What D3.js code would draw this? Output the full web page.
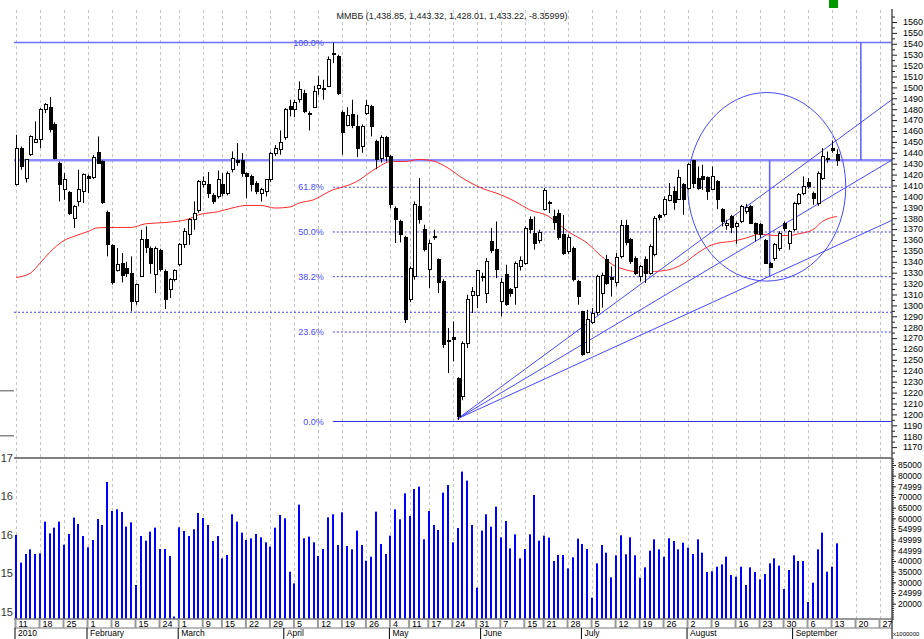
<!DOCTYPE html>
<html>
<head>
<meta charset="utf-8">
<script src="https://cdn.jsdelivr.net/npm/d3@7"></script>
<style>
  body { margin: 0; background: #fff; }
  svg text { font-family: "Liberation Sans", Arial, sans-serif; }
</style>
</head>
<body>
<svg id="chart" width="924" height="639"></svg>
<script>
var title = "ММВБ (1,438.85, 1,443.32, 1,428.01, 1,433.22, -8.35999)";

// daily candles, 11 Jan .. 14 Sep 2010 (trading days)
var open = [1410.7,1443.7,1416.8,1438.8,1449.5,1452.0,1479.5,1481.6,1466.3,1430.6,
  1406.1,1403.6,1380.1,1395.4,1404.6,1418.3,1417.4,1440.3,1432.1,1385.6,
  1354.7,1332.1,1338.2,1334.2,1329.1,1303.7,1326.6,1360.8,1352.6,1328.1,
  1350.4,1331.2,1314.9,1323.6,1337.3,1355.6,1364.8,1378.6,1387.1,1411.3,
  1410.7,1400.6,1400.0,1411.3,1403.0,1424.4,1432.7,1433.0,1420.8,1418.3,
  1412.2,1403.0,1404.6,1415.3,1439.7,1442.8,1454.4,1482.5,1479.5,1488.7,
  1494.8,1476.4,1481.9,1499.3,1499.3,1500.9,1531.5,1528.4,1477.0,1464.8,
  1474.9,1464.2,1445.8,1475.8,1482.5,1450.4,1435.1,1454.4,1436.7,1389.2,
  1377.0,1362.7,1305.8,1326.6,1390.8,1370.0,1333.3,1362.1,1341.9,1322.0,
  1267.8,1270.9,1233.3,1216.5,1265.4,1308.8,1308.8,1326.6,1311.3,1358.7,
  1351.7,1303.7,1328.1,1314.4,1316.8,1335.8,1338.8,1378.6,1366.4,1359.6,
  1387.8,1394.5,1381.6,1384.7,1364.8,1349.5,1352.6,1322.0,1294.4,1256.8,
  1284.3,1293.5,1311.3,1341.8,1325.9,1321.0,1344.9,1373.0,1360.2,1343.4,
  1326.6,1341.8,1329.6,1346.4,1382.2,1383.1,1396.3,1404.5,1397.5,1410.6,
  1407.6,1433.0,1416.8,1418.3,1417.7,1406.7,1413.7,1388.3,1373.0,1381.6,
  1372.4,1377.0,1386.2,1390.8,1374.9,1373.9,1359.6,1338.2,1343.4,1352.6,
  1375.5,1357.1,1369.4,1393.8,1402.4,1412.8,1403.0,1393.8,1416.8,1433.6,
  1444.3,1438.85];
var high = [1456.5,1445.8,1434.0,1456.0,1468.8,1481.0,1485.6,1491.1,1468.0,1432.0,
  1421.4,1405.0,1392.0,1424.4,1421.0,1419.9,1438.0,1455.0,1433.0,1387.0,
  1356.0,1352.6,1348.0,1340.0,1345.0,1320.0,1369.4,1372.5,1354.0,1354.0,
  1352.0,1333.0,1325.0,1333.0,1357.2,1370.9,1380.0,1395.4,1415.0,1418.3,
  1422.3,1403.0,1423.8,1421.4,1423.0,1441.3,1448.9,1439.7,1422.0,1420.0,
  1414.0,1408.0,1415.3,1441.0,1447.0,1460.5,1481.0,1488.7,1488.7,1505.5,
  1497.8,1478.0,1501.5,1510.7,1507.0,1528.4,1541.0,1530.0,1479.0,1481.9,
  1488.7,1474.9,1466.0,1488.7,1484.0,1452.0,1456.0,1455.5,1438.0,1390.8,
  1378.6,1364.0,1335.8,1395.4,1416.8,1374.0,1360.2,1369.4,1343.0,1324.0,
  1279.2,1285.3,1234.0,1267.0,1309.8,1316.8,1332.1,1330.0,1343.4,1370.9,
  1377.0,1325.0,1337.3,1316.0,1340.3,1345.0,1372.5,1381.6,1381.6,1369.4,
  1407.6,1396.0,1387.8,1387.8,1383.1,1365.0,1354.0,1323.5,1295.0,1296.0,
  1297.5,1328.1,1330.0,1346.4,1335.7,1348.0,1378.5,1378.5,1362.0,1345.0,
  1337.0,1344.9,1356.0,1382.0,1384.0,1400.0,1412.2,1409.1,1424.4,1412.2,
  1430.5,1433.6,1427.5,1429.0,1418.3,1427.5,1415.0,1389.2,1378.5,1383.1,
  1377.0,1392.3,1393.2,1392.3,1376.0,1375.5,1361.0,1340.0,1357.1,1368.0,
  1377.0,1369.0,1395.0,1403.0,1418.3,1416.8,1404.5,1422.9,1444.3,1441.2,
  1451.3,1443.32];
var low = [1410.0,1424.4,1412.8,1437.0,1449.0,1444.3,1476.4,1458.7,1434.0,1395.4,
  1396.9,1383.0,1371.0,1390.8,1393.9,1403.0,1416.0,1430.0,1393.0,1345.0,
  1319.0,1331.0,1321.1,1326.0,1294.5,1300.6,1326.0,1348.0,1329.0,1311.3,
  1331.0,1296.6,1306.7,1322.0,1335.8,1352.6,1355.6,1369.4,1385.0,1408.0,
  1398.4,1393.0,1398.0,1400.0,1401.0,1422.0,1428.0,1418.0,1398.4,1404.6,
  1402.0,1395.4,1400.0,1413.0,1437.0,1438.2,1452.0,1473.4,1472.7,1486.0,
  1476.4,1460.5,1481.0,1493.2,1488.7,1500.3,1522.3,1493.0,1438.2,1464.2,
  1462.6,1436.0,1440.0,1474.9,1455.0,1425.0,1431.0,1432.0,1389.0,1357.2,
  1357.8,1283.8,1303.0,1323.6,1375.0,1349.5,1315.9,1360.2,1311.3,1260.8,
  1237.9,1248.6,1195.0,1213.0,1260.8,1293.0,1297.5,1322.0,1302.2,1348.0,
  1325.0,1290.0,1299.7,1308.0,1300.6,1332.0,1337.3,1366.0,1351.1,1357.0,
  1387.1,1384.7,1369.4,1360.2,1346.4,1347.0,1322.0,1300.6,1253.8,1256.0,
  1283.1,1291.0,1298.0,1318.9,1308.2,1317.4,1343.0,1355.0,1338.0,1328.1,
  1322.0,1320.4,1328.1,1345.0,1378.0,1381.6,1395.4,1387.7,1396.9,1383.1,
  1406.1,1407.6,1406.1,1406.1,1396.9,1406.1,1388.3,1372.4,1369.4,1366.3,
  1356.5,1375.5,1384.0,1374.9,1358.7,1362.0,1338.2,1334.5,1341.0,1350.0,
  1368.0,1351.0,1368.0,1392.0,1401.0,1407.0,1392.3,1391.4,1415.0,1431.0,
  1440.0,1428.01];
var close = [1444.3,1427.5,1433.6,1455.0,1452.0,1479.5,1484.0,1461.1,1435.1,1410.7,
  1415.3,1384.7,1390.8,1406.1,1419.9,1416.8,1436.1,1430.6,1394.8,1355.6,
  1321.1,1337.3,1327.2,1329.1,1303.7,1318.9,1360.8,1353.5,1338.8,1352.6,
  1333.3,1305.8,1323.6,1332.1,1355.6,1367.9,1378.6,1384.7,1413.7,1413.7,
  1402.4,1395.4,1415.3,1403.0,1420.8,1435.1,1431.5,1420.8,1418.3,1410.7,
  1404.6,1406.1,1415.3,1439.7,1443.7,1449.5,1479.5,1480.1,1486.2,1497.8,
  1478.0,1475.5,1496.3,1501.5,1498.4,1526.0,1530.9,1494.8,1458.7,1474.0,
  1464.8,1443.7,1464.2,1483.1,1464.2,1433.6,1454.4,1436.7,1392.3,1378.6,
  1364.8,1286.8,1334.2,1392.3,1378.6,1351.7,1357.2,1363.3,1321.1,1263.9,
  1266.9,1269.0,1198.2,1265.4,1305.8,1312.8,1332.1,1325.8,1340.3,1350.4,
  1333.3,1321.1,1300.6,1311.3,1338.8,1341.3,1370.9,1369.4,1357.2,1366.9,
  1405.5,1393.3,1376.1,1362.7,1348.0,1362.6,1323.5,1308.2,1254.7,1287.4,
  1292.9,1326.6,1327.2,1320.4,1324.1,1344.3,1373.0,1357.7,1340.3,1329.6,
  1335.7,1329.6,1354.1,1380.1,1381.0,1396.9,1400.6,1394.4,1417.7,1396.9,
  1429.0,1412.2,1407.6,1415.2,1404.5,1418.3,1396.9,1377.0,1375.5,1371.8,
  1375.5,1390.8,1390.2,1375.5,1365.7,1364.8,1338.8,1335.1,1355.6,1366.3,
  1370.9,1367.9,1393.8,1401.5,1409.1,1409.1,1398.4,1421.4,1436.6,1435.1,
  1442.1,1433.22];

// volume, x 1000000
var volume = [52200,39230,43290,45480,43290,43600,58450,52980,55640,58450,
  47670,52670,60330,57360,51730,46420,49850,59700,56890,77050,
  63450,64240,62980,56110,58140,28750,51730,49540,53760,55640,
  45630,45630,42350,14000,55790,54070,51730,54860,62510,60170,
  56890,49390,51730,41260,42820,61890,58450,53290,49850,50640,
  52670,51100,48760,46730,55640,61580,60010,35000,29530,66420,
  50640,51420,48760,42350,45630,60480,61890,47510,62830,47040,
  45480,54230,47510,40160,42040,63140,47980,43290,51890,64230,
  59540,71740,61110,73770,74860,50170,63450,56890,54540,72050,
  75640,48760,55480,81900,77670,56890,27500,54230,61890,56110,
  65480,51100,58760,45950,52510,41260,45630,52510,70960,49540,
  51890,50950,40010,42820,42820,36570,41730,50480,47980,45630,
  22800,38910,47510,43920,32350,42670,52040,43130,51100,42670,
  32190,37040,44850,50170,45480,42040,50640,49390,45480,48600,
  46260,43290,50170,43920,34850,35160,37350,38440,42040,33440,
  32660,37350,28750,37040,34850,31410,33910,38910,41260,37820,
  26880,35790,42670,40010,40010,20800,29850,45480,53290,35000,
  37350,48290];

// moving average (bar index, value)
var maIdx = [0,3,5,7,10,12,15,17,20,24,27,31,36,38,42,45,48,51,54,57,59,62,66,68,71,74,76,78,81,84,
  87,90,93,97,101,104,107,111,113,115,119,122,125,127,130,133,136,139,142,145,147,149,152,155,158,161,163,166,168,171];
var maVal = [1325.6,1329.6,1338.8,1348.5,1359.5,1363.2,1367.8,1371.2,1371.5,1371.5,1374.9,1376.0,1379.2,1383.1,
  1385.9,1389.3,1391.7,1391.7,1389.3,1390.2,1393.9,1396.9,1406.0,1408.5,1413.7,1422.8,1428.3,1432.0,1432.0,1433.9,
  1432.4,1426.0,1416.8,1407.6,1401.5,1395.3,1387.7,1381.6,1374.9,1367.8,1357.2,1344.9,1335.7,1332.7,1330.6,1331.1,
  1332.7,1338.2,1348.0,1355.6,1357.7,1358.6,1361.7,1365.4,1364.1,1364.1,1365.7,1369.4,1377.0,1381.6];

// date axis
var weekIdx = [0,5,10,15,20,25,30,34,39,43,48,53,58,63,68,73,78,82,86,91,96,101,106,110,115,120,125,130,135,140,145,150,155,160,165,170,175,180];
var weekLbl = ["11","18","25","1","8","15","24","1","9","15","22","29","5","12","19","26","4","11","17","24","31","7","15","21","28","5","12","19","26","2","9","16","23","30","6","13","20","27"];
var monthIdx = [0,15,34,56,78,97,118,140,162];
var monthLbl = ["2010","February","March","April","May","June","July","August","September"];

// drawing objects
var fibIdx = 66;
var fibHigh = 1541.2, fibLow = 1193.5;
var fibLevels = [0, 0.236, 0.382, 0.5, 0.618, 1];
var fibLabels = ["0.0%", "23.6%", "38.2%", "50.0%", "61.8%", "100.0%"];
var levelLine = 1433.1;
var dottedLine = 1293.7;
var fanStart = [92, 1196];
var fanEnds = [[182.7, 1489.5], [182.7, 1434.0], [182.7, 1378.5]];
var arcCenter = [156.4, 1408.8];
var arcRadius = [16.46, 86.5];
var markIdx = [157, 176];

var volTicks = [85000,80000,75000,70000,65000,60000,55000,50000,45000,40000,35000,30000,25000,20000];
var volTickLbl = ["85000","80000","74999","70000","65000","60000","54999","49999","44999","40000","35000","30000","24999","20000"];
var leftTicks = [17, 16.5, 16, 15.5, 15];
var leftLbl = ["17", "16", "16", "15", "15"];

var svg = d3.select("#chart");

var x = d3.scaleLinear().domain([0, 182.7]).range([16, 893]);
var yP = d3.scaleLinear().domain([1160, 1571]).range([458, 10]);
var yV = d3.scaleLinear().domain([20000, 85000]).range([603.7, 465]);
var yL = d3.scaleLinear().domain([15, 17]).range([612, 458]);

var left = 14, right = 892, volBottom = 619;

// vertical dashed grid
svg.append("g").selectAll("line")
    .data(weekIdx)
    .enter().append("line")
    .attr("x1", function (d) { return Math.round(x(d)) + 0.5; })
    .attr("x2", function (d) { return Math.round(x(d)) + 0.5; })
    .attr("y1", 10).attr("y2", volBottom)
    .attr("stroke", "#c4c4c4")
    .attr("stroke-dasharray", "3,3");

// title + green marker
svg.append("text")
    .attr("x", 452).attr("y", 19)
    .attr("text-anchor", "middle")
    .attr("font-size", 9)
    .attr("fill", "#222")
    .text(title);
svg.append("rect").attr("x", 829).attr("y", 0).attr("width", 9).attr("height", 8).attr("fill", "#009900");

// left stubs
svg.append("g").selectAll("line")
    .data([1221.7, 1180.4])
    .enter().append("line")
    .attr("x1", 0).attr("x2", left)
    .attr("y1", function (d) { return yP(d); })
    .attr("y2", function (d) { return yP(d); })
    .attr("stroke", "#888").attr("stroke-width", 1.5);

// full-width horizontal lines
svg.append("line")
    .attr("x1", left).attr("x2", right)
    .attr("y1", yP(levelLine)).attr("y2", yP(levelLine))
    .attr("stroke", "#8c8cff").attr("stroke-width", 2.5);
svg.append("line")
    .attr("x1", left).attr("x2", right)
    .attr("y1", yP(fibHigh)).attr("y2", yP(fibHigh))
    .attr("stroke", "#6f6fff").attr("stroke-width", 1.5);
svg.append("line")
    .attr("x1", left).attr("x2", right)
    .attr("y1", yP(dottedLine)).attr("y2", yP(dottedLine))
    .attr("stroke", "#3c3cff").attr("stroke-dasharray", "2,2");

// fibonacci retracement
var fib = svg.append("g");
fibLevels.forEach(function (f, i) {
    var v = fibLow + f * (fibHigh - fibLow);
    if (f > 0 && f < 1) {
        fib.append("line")
            .attr("x1", x(fibIdx)).attr("x2", right)
            .attr("y1", yP(v)).attr("y2", yP(v))
            .attr("stroke", "#3c3cff").attr("stroke-dasharray", "2,2");
    } else if (f === 0) {
        fib.append("line")
            .attr("x1", x(fibIdx)).attr("x2", right)
            .attr("y1", yP(v)).attr("y2", yP(v))
            .attr("stroke", "#3030d8");
    }
    fib.append("text")
        .attr("x", x(fibIdx) - 9).attr("y", yP(v))
        .attr("dy", "0.35em")
        .attr("text-anchor", "end")
        .attr("font-size", 9)
        .attr("fill", "#4a4aff")
        .text(fibLabels[i]);
});

// vertical marks
svg.append("line")
    .attr("x1", x(markIdx[0])).attr("x2", x(markIdx[0]))
    .attr("y1", yP(levelLine)).attr("y2", yP(fibLow + 0.382 * (fibHigh - fibLow)))
    .attr("stroke", "#5a5aff").attr("stroke-width", 1.5);
svg.append("line")
    .attr("x1", x(markIdx[1])).attr("x2", x(markIdx[1]))
    .attr("y1", yP(fibHigh)).attr("y2", yP(levelLine))
    .attr("stroke", "#5a5aff").attr("stroke-width", 1.5);

// fan lines
svg.append("g").selectAll("line")
    .data(fanEnds)
    .enter().append("line")
    .attr("x1", x(fanStart[0])).attr("y1", yP(fanStart[1]))
    .attr("x2", function (d) { return x(d[0]); })
    .attr("y2", function (d) { return yP(d[1]); })
    .attr("stroke", "#4848ff");

// ellipse
svg.append("ellipse")
    .attr("cx", x(arcCenter[0])).attr("cy", yP(arcCenter[1]))
    .attr("rx", x(arcCenter[0] + arcRadius[0]) - x(arcCenter[0]))
    .attr("ry", yP(arcCenter[1] - arcRadius[1]) - yP(arcCenter[1]))
    .attr("fill", "none")
    .attr("stroke", "#4848ff");

// moving average
var ma = maIdx.map(function (d, i) { return [d, maVal[i]]; });
svg.append("path")
    .datum(ma)
    .attr("fill", "none")
    .attr("stroke", "#ff2a2a")
    .attr("d", d3.line()
        .x(function (d) { return x(d[0]); })
        .y(function (d) { return yP(d[1]); })
        .curve(d3.curveMonotoneX));

// candles
var bars = open.map(function (o, i) {
    return { i: i, o: o, h: high[i], l: low[i], c: close[i], v: volume[i] };
});

var candle = svg.append("g")
    .selectAll("g")
    .data(bars)
    .enter().append("g");

candle.append("line")
    .attr("x1", function (d) { return Math.round(x(d.i)) + 0.5; })
    .attr("x2", function (d) { return Math.round(x(d.i)) + 0.5; })
    .attr("y1", function (d) { return yP(d.h); })
    .attr("y2", function (d) { return yP(d.l); })
    .attr("stroke", "#000");

candle.append("rect")
    .attr("x", function (d) { return Math.round(x(d.i)) - 1; })
    .attr("width", 3)
    .attr("y", function (d) { return yP(Math.max(d.o, d.c)); })
    .attr("height", function (d) { return Math.max(1, Math.abs(yP(d.o) - yP(d.c))); })
    .attr("fill", function (d) { return d.c < d.o ? "#000" : "#fff"; })
    .attr("stroke", "#000")
    .attr("shape-rendering", "crispEdges");

// volume
svg.append("g").selectAll("rect")
    .data(bars)
    .enter().append("rect")
    .attr("x", function (d) { return Math.round(x(d.i)) - 1; })
    .attr("width", 2)
    .attr("y", function (d) { return yV(d.v); })
    .attr("height", function (d) { return Math.max(0, volBottom - yV(d.v)); })
    .attr("fill", "#0000ff");

// panel separators
svg.append("line")
    .attr("x1", left).attr("x2", right).attr("y1", 458).attr("y2", 458)
    .attr("stroke", "#555").attr("stroke-width", 1.5);
svg.append("line")
    .attr("x1", left).attr("x2", right).attr("y1", volBottom).attr("y2", volBottom)
    .attr("stroke", "#777").attr("stroke-width", 1.5);
svg.append("line")
    .attr("x1", left).attr("x2", right).attr("y1", 628).attr("y2", 628)
    .attr("stroke", "#777");

// right axis line
svg.append("line")
    .attr("x1", right).attr("x2", right).attr("y1", 9).attr("y2", 639)
    .attr("stroke", "#555").attr("stroke-width", 1.5);

function styleAxis(g, size) {
    g.select(".domain").remove();
    g.selectAll("line").attr("stroke", "#222");
    g.selectAll("text")
        .attr("font-family", "'Liberation Sans', Arial, sans-serif")
        .attr("font-size", size)
        .attr("fill", "#000");
}

// price axis
svg.append("g")
    .attr("transform", "translate(" + right + ",0)")
    .call(d3.axisRight(yP).tickValues(d3.range(1165, 1570, 10)).tickSize(3).tickFormat(""))
    .call(styleAxis, 9);
svg.append("g")
    .attr("transform", "translate(" + right + ",0)")
    .call(d3.axisRight(yP).tickValues(d3.range(1170, 1561, 10)).tickSize(5).tickPadding(6)
        .tickFormat(d3.format("d")))
    .call(styleAxis, 9);

// volume axis
svg.append("g")
    .attr("transform", "translate(" + right + ",0)")
    .call(d3.axisRight(yV).tickValues(d3.range(13000, 88001, 1000)).tickSize(2).tickFormat(""))
    .call(styleAxis, 9);
svg.append("g")
    .attr("transform", "translate(" + right + ",0)")
    .call(d3.axisRight(yV).tickValues(volTicks).tickSize(4).tickPadding(2)
        .tickFormat(function (d, i) { return volTickLbl[i]; }))
    .call(styleAxis, 8.5);
svg.append("text")
    .attr("x", right + 1).attr("y", 636)
    .attr("font-size", 6)
    .attr("fill", "#000")
    .text("x1000000");

// left volume labels
svg.append("g").selectAll("text")
    .data(leftTicks)
    .enter().append("text")
    .attr("x", 13)
    .attr("y", function (d) { return yL(d); })
    .attr("dy", "0.35em")
    .attr("text-anchor", "end")
    .attr("font-size", 11)
    .attr("fill", "#333")
    .text(function (d, i) { return leftLbl[i]; });

// day axis
var dayAxis = svg.append("g")
    .attr("transform", "translate(-1," + volBottom + ")")
    .call(d3.axisBottom(x).tickValues(weekIdx).tickSize(9).tickPadding(-7)
        .tickFormat(function (d, i) { return weekLbl[i]; }));
dayAxis.select(".domain").remove();
dayAxis.selectAll("line").attr("stroke", "#999").attr("stroke-width", 2);
dayAxis.selectAll("text")
    .attr("text-anchor", "start")
    .attr("x", 3)
    .attr("font-family", "'Liberation Sans', Arial, sans-serif")
    .attr("font-size", 9)
    .attr("fill", "#000");

// month axis
var monthAxis = svg.append("g")
    .attr("transform", "translate(-1.5,628)")
    .call(d3.axisBottom(x).tickValues(monthIdx).tickSize(11).tickPadding(-9)
        .tickFormat(function (d, i) { return monthLbl[i]; }));
monthAxis.select(".domain").remove();
monthAxis.selectAll("line").attr("stroke", "#000");
monthAxis.selectAll("text")
    .attr("text-anchor", "start")
    .attr("x", 3)
    .attr("font-family", "'Liberation Sans', Arial, sans-serif")
    .attr("font-size", 8.5)
    .attr("fill", "#000");
</script>
</body>
</html>
